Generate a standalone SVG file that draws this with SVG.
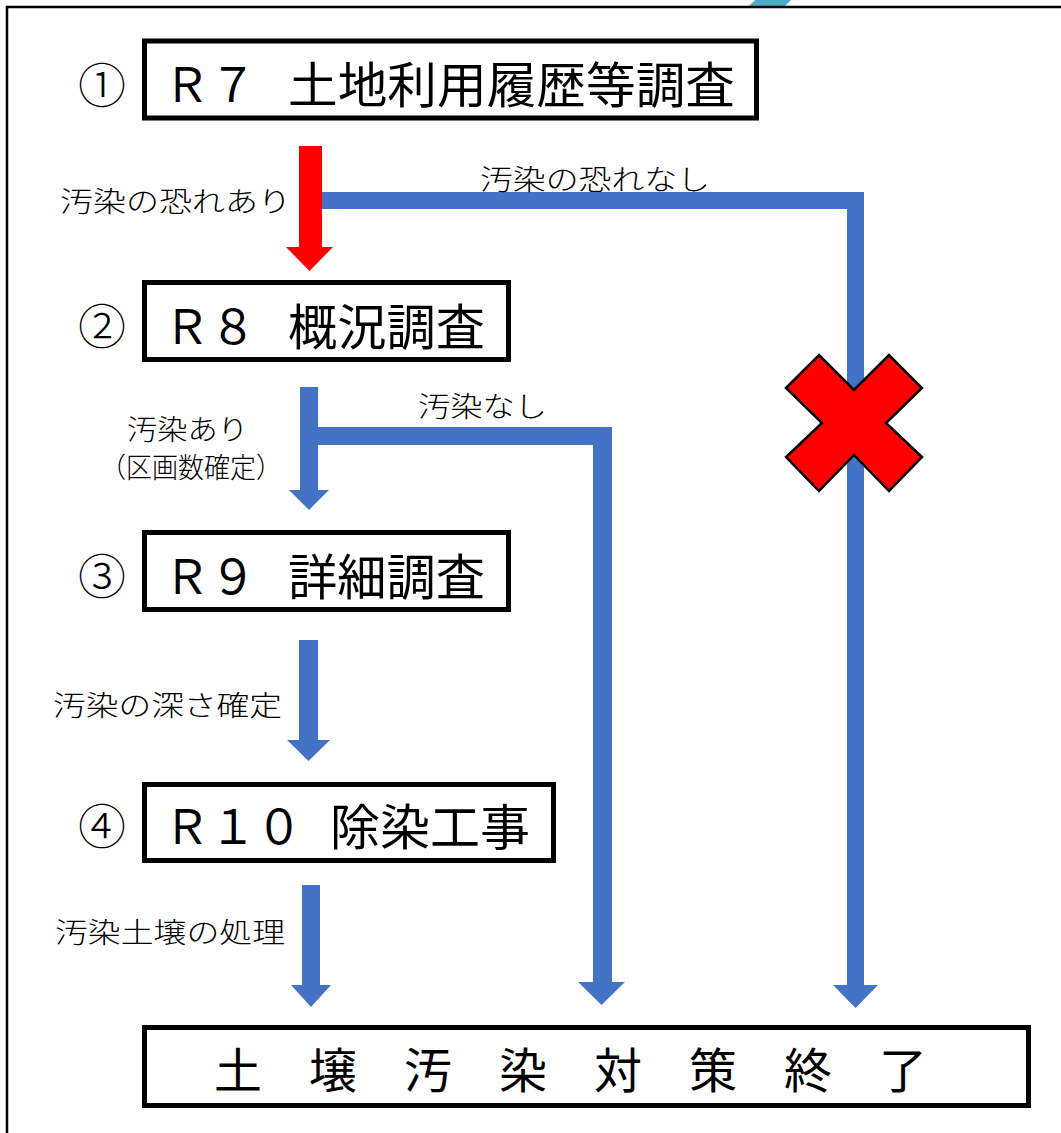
<svg xmlns="http://www.w3.org/2000/svg" width="1061" height="1133" viewBox="0 0 1061 1133">
<style>
.box{fill:#fff;stroke:#000;stroke-width:5}
.t{font-family:"Noto Sans CJK JP","Noto Sans",sans-serif;fill:#000}
.big{font-size:48px}
.kj{font-size:49px}
.num{font-size:48px;font-weight:300}
.lbl{font-size:28px;font-weight:300}
.blue{fill:#4472C4}
</style>
<rect width="1061" height="1133" fill="#fff"/>
<g id="frame">
<polygon points="755,0 791,0 785,6 749,6" fill="#4BACC6"/>
<path d="M7,1133 V7 H1061" fill="none" stroke="#000" stroke-width="2.5"/>
</g>
<g id="connectors">
<polygon class="blue" points="322,192 864,192 864,985 878,985 855.5,1008 833,985 847,985 847,209 322,209"/>
<polygon class="blue" points="318,427 612,427 612,982 625,982 601.5,1005 578,982 593,982 593,445 318,445"/>
<polygon class="blue" points="300,387 318,387 318,490 329,490 309,510 289,490 300,490"/>
<polygon class="blue" points="299,640 318,640 318,740 330,740 308.5,761 287,740 299,740"/>
<polygon class="blue" points="302,885 320,885 320,985 331,985 311,1007 291,985 302,985"/>
<polygon points="299,146 322,146 322,247 333,247 309.5,271 286,247 299,247" fill="#FF0000"/>
<text class="t lbl" x="480" y="178" dominant-baseline="central" textLength="230" lengthAdjust="spacingAndGlyphs">汚染の恐れなし</text>
<text class="t lbl" x="60" y="200" dominant-baseline="central" textLength="231" lengthAdjust="spacingAndGlyphs">汚染の恐れあり</text>
<text class="t lbl" x="418" y="405" dominant-baseline="central" textLength="129" lengthAdjust="spacingAndGlyphs">汚染なし</text>
<text class="t lbl" x="127" y="428" dominant-baseline="central" textLength="121" lengthAdjust="spacingAndGlyphs">汚染あり</text>
<text class="t lbl" x="100" y="466" dominant-baseline="central" textLength="182" lengthAdjust="spacingAndGlyphs">（区画数確定）</text>
<text class="t lbl" x="53" y="704" dominant-baseline="central" textLength="229" lengthAdjust="spacingAndGlyphs">汚染の深さ確定</text>
<text class="t lbl" x="55" y="931" dominant-baseline="central" textLength="230" lengthAdjust="spacingAndGlyphs">汚染土壌の処理</text>
</g>
<g id="cross">
<polygon points="786,388 819,355 854,390 889,355 922,388 886,423 922,457 889,491 854,455 819,491 786,457 822,423" fill="#FF0000" stroke="#000" stroke-width="2.5" stroke-linejoin="miter"/>
</g>
<g id="node1">
<text class="t num" x="102" y="82" text-anchor="middle" dominant-baseline="central">①</text>
<rect class="box" x="144.5" y="41" width="612" height="77"/>
<text class="t big" x="164" y="81" dominant-baseline="central" textLength="92" lengthAdjust="spacingAndGlyphs">Ｒ７</text>
<text class="t kj" x="288" y="81" dominant-baseline="central" textLength="447" lengthAdjust="spacingAndGlyphs">土地利用履歴等調査</text>
</g>
<g id="node2">
<text class="t num" x="102" y="323" text-anchor="middle" dominant-baseline="central">②</text>
<rect class="box" x="144.5" y="282.5" width="364" height="77"/>
<text class="t big" x="164" y="323" dominant-baseline="central" textLength="92" lengthAdjust="spacingAndGlyphs">Ｒ８</text>
<text class="t kj" x="288" y="323" dominant-baseline="central" textLength="197" lengthAdjust="spacingAndGlyphs">概況調査</text>
</g>
<g id="node3">
<text class="t num" x="102" y="573" text-anchor="middle" dominant-baseline="central">③</text>
<rect class="box" x="144.5" y="532.5" width="364" height="77"/>
<text class="t big" x="164" y="573" dominant-baseline="central" textLength="92" lengthAdjust="spacingAndGlyphs">Ｒ９</text>
<text class="t kj" x="288" y="573" dominant-baseline="central" textLength="197" lengthAdjust="spacingAndGlyphs">詳細調査</text>
</g>
<g id="node4">
<text class="t num" x="102" y="823" text-anchor="middle" dominant-baseline="central">④</text>
<rect class="box" x="144.5" y="784.5" width="409" height="76"/>
<text class="t big" x="164" y="823" dominant-baseline="central" textLength="138" lengthAdjust="spacingAndGlyphs">Ｒ１０</text>
<text class="t kj" x="330" y="823" dominant-baseline="central" textLength="200" lengthAdjust="spacingAndGlyphs">除染工事</text>
</g>
<g id="node5">
<rect class="box" x="144.5" y="1027.5" width="884" height="78"/>
<text class="t big" x="214 309 404 499 594 689 784 879" y="1067" dominant-baseline="central">土壌汚染対策終了</text>
</g>
</svg>
